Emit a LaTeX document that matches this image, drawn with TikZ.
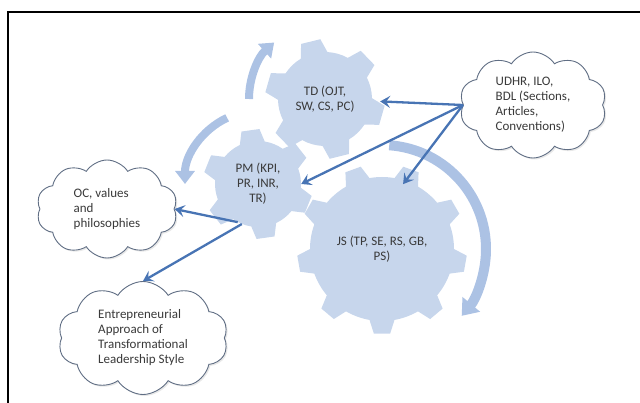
\documentclass[tikz,border=0pt]{standalone}
\usepackage{fontspec}
\setmainfont{Carlito}
\usetikzlibrary{shapes.symbols, arrows.meta, shadows}
\definecolor{gearFill}{RGB}{199,214,236}
\definecolor{spinFill}{RGB}{172,194,228}
\definecolor{linkBlue}{RGB}{72,116,180}
\definecolor{cloudLine}{RGB}{96,110,132}
\definecolor{labelGrey}{RGB}{58,58,58}
\tikzstyle{hub} = [circle, inner sep=0pt, align=center, text=labelGrey, font=\fontsize{13}{15}\selectfont]
\tikzstyle{bubble} = [cloud, cloud puffs=10, cloud puff arc=115, aspect=1.4, inner sep=0pt, draw=cloudLine, line width=0.9pt, fill=white, drop shadow={opacity=0.18, shadow xshift=1.5pt, shadow yshift=-1.5pt}, align=left, text=labelGrey, font=\fontsize{13}{15}\selectfont]
\tikzstyle{arrow} = [linkBlue, line width=2.3pt, -{Stealth[length=10pt, width=12pt, inset=4pt]}]
\tikzstyle{spinArrow} = [spinFill, -{Triangle[length=13pt, width=19pt]}]

% gear: centre, teeth, root radius, tip radius, root half angle, tip half angle, turn
\newcommand{\drawGear}[7]{%
  \fill[gearFill, shift={(#1)}] ({#7+360/#2-#5}:#3)
    \foreach \k in {1,...,#2} {
      -- ({#7+\k*360/#2-#6}:#4) -- ({#7+\k*360/#2+#6}:#4) -- ({#7+\k*360/#2+#5}:#3)
      arc[start angle={#7+\k*360/#2+#5}, end angle={#7+(\k+1)*360/#2-#5}, radius=#3pt]
    } -- cycle;}

\begin{document}
\begin{tikzpicture}[x=1pt, y=1pt]
\useasboundingbox (0,0) rectangle (640,-403);

% frame
\draw[line width=1.2pt] (8,-403) -- (8,-12) -- (641,-12);

\coordinate (tdHub) at (325,-99);
\coordinate (pmHub) at (258,-184);
\coordinate (jsHub) at (382,-249);

% turning arrows round the gears
\draw[spinArrow, line width=8pt] ([shift={(180:76)}]tdHub) arc[start angle=180, end angle=132, radius=76pt];
\draw[spinArrow, line width=8pt] ([shift={(115:73)}]pmHub) arc[start angle=115, end angle=180, radius=73pt];
\draw[spinArrow, line width=10pt, -{Triangle[length=15pt, width=22pt]}] ([shift={(86:104)}]jsHub) arc[start angle=86, end angle=-40, radius=104pt];

\drawGear{tdHub}{6}{47}{60}{17}{9.5}{-16}
\drawGear{pmHub}{6}{43}{55}{17}{9.5}{-22}
\drawGear{jsHub}{9}{72}{85}{10}{5.5}{-10}

\node (tdGear) [hub, minimum size=110pt] at (tdHub) {TD (OJT,\\SW, CS, PC)};
\node (pmGear) [hub, minimum size=86pt] at (pmHub) {PM (KPI,\\PR, INR,\\TR)};
\node (jsGear) [hub, minimum size=136pt] at (jsHub) {JS (TP, SE, RS, GB,\\PS)};

\node (lawCloud) [bubble, minimum width=147pt, minimum height=106pt] at (533,-105) {UDHR, ILO,\\BDL (Sections,\\Articles,\\Conventions)};
\node (ocCloud) [bubble, minimum width=141pt, minimum height=98pt] at (107,-209) {OC, values\\and\\philosophies};
\node (leaderCloud) [bubble, minimum width=170pt, minimum height=113pt] at (143,-338) {Entrepreneurial\\Approach of\\Transformational\\Leadership Style};

\draw [arrow] (lawCloud.west) -- (tdGear);
\draw [arrow] (lawCloud.west) -- (pmGear.east);
\draw [arrow] (lawCloud.west) -- (jsGear.72);
\draw [arrow] (pmGear.242) -- (ocCloud.east);
\draw [arrow] (pmGear.248) -- (leaderCloud.north);

\end{tikzpicture}
\end{document}
